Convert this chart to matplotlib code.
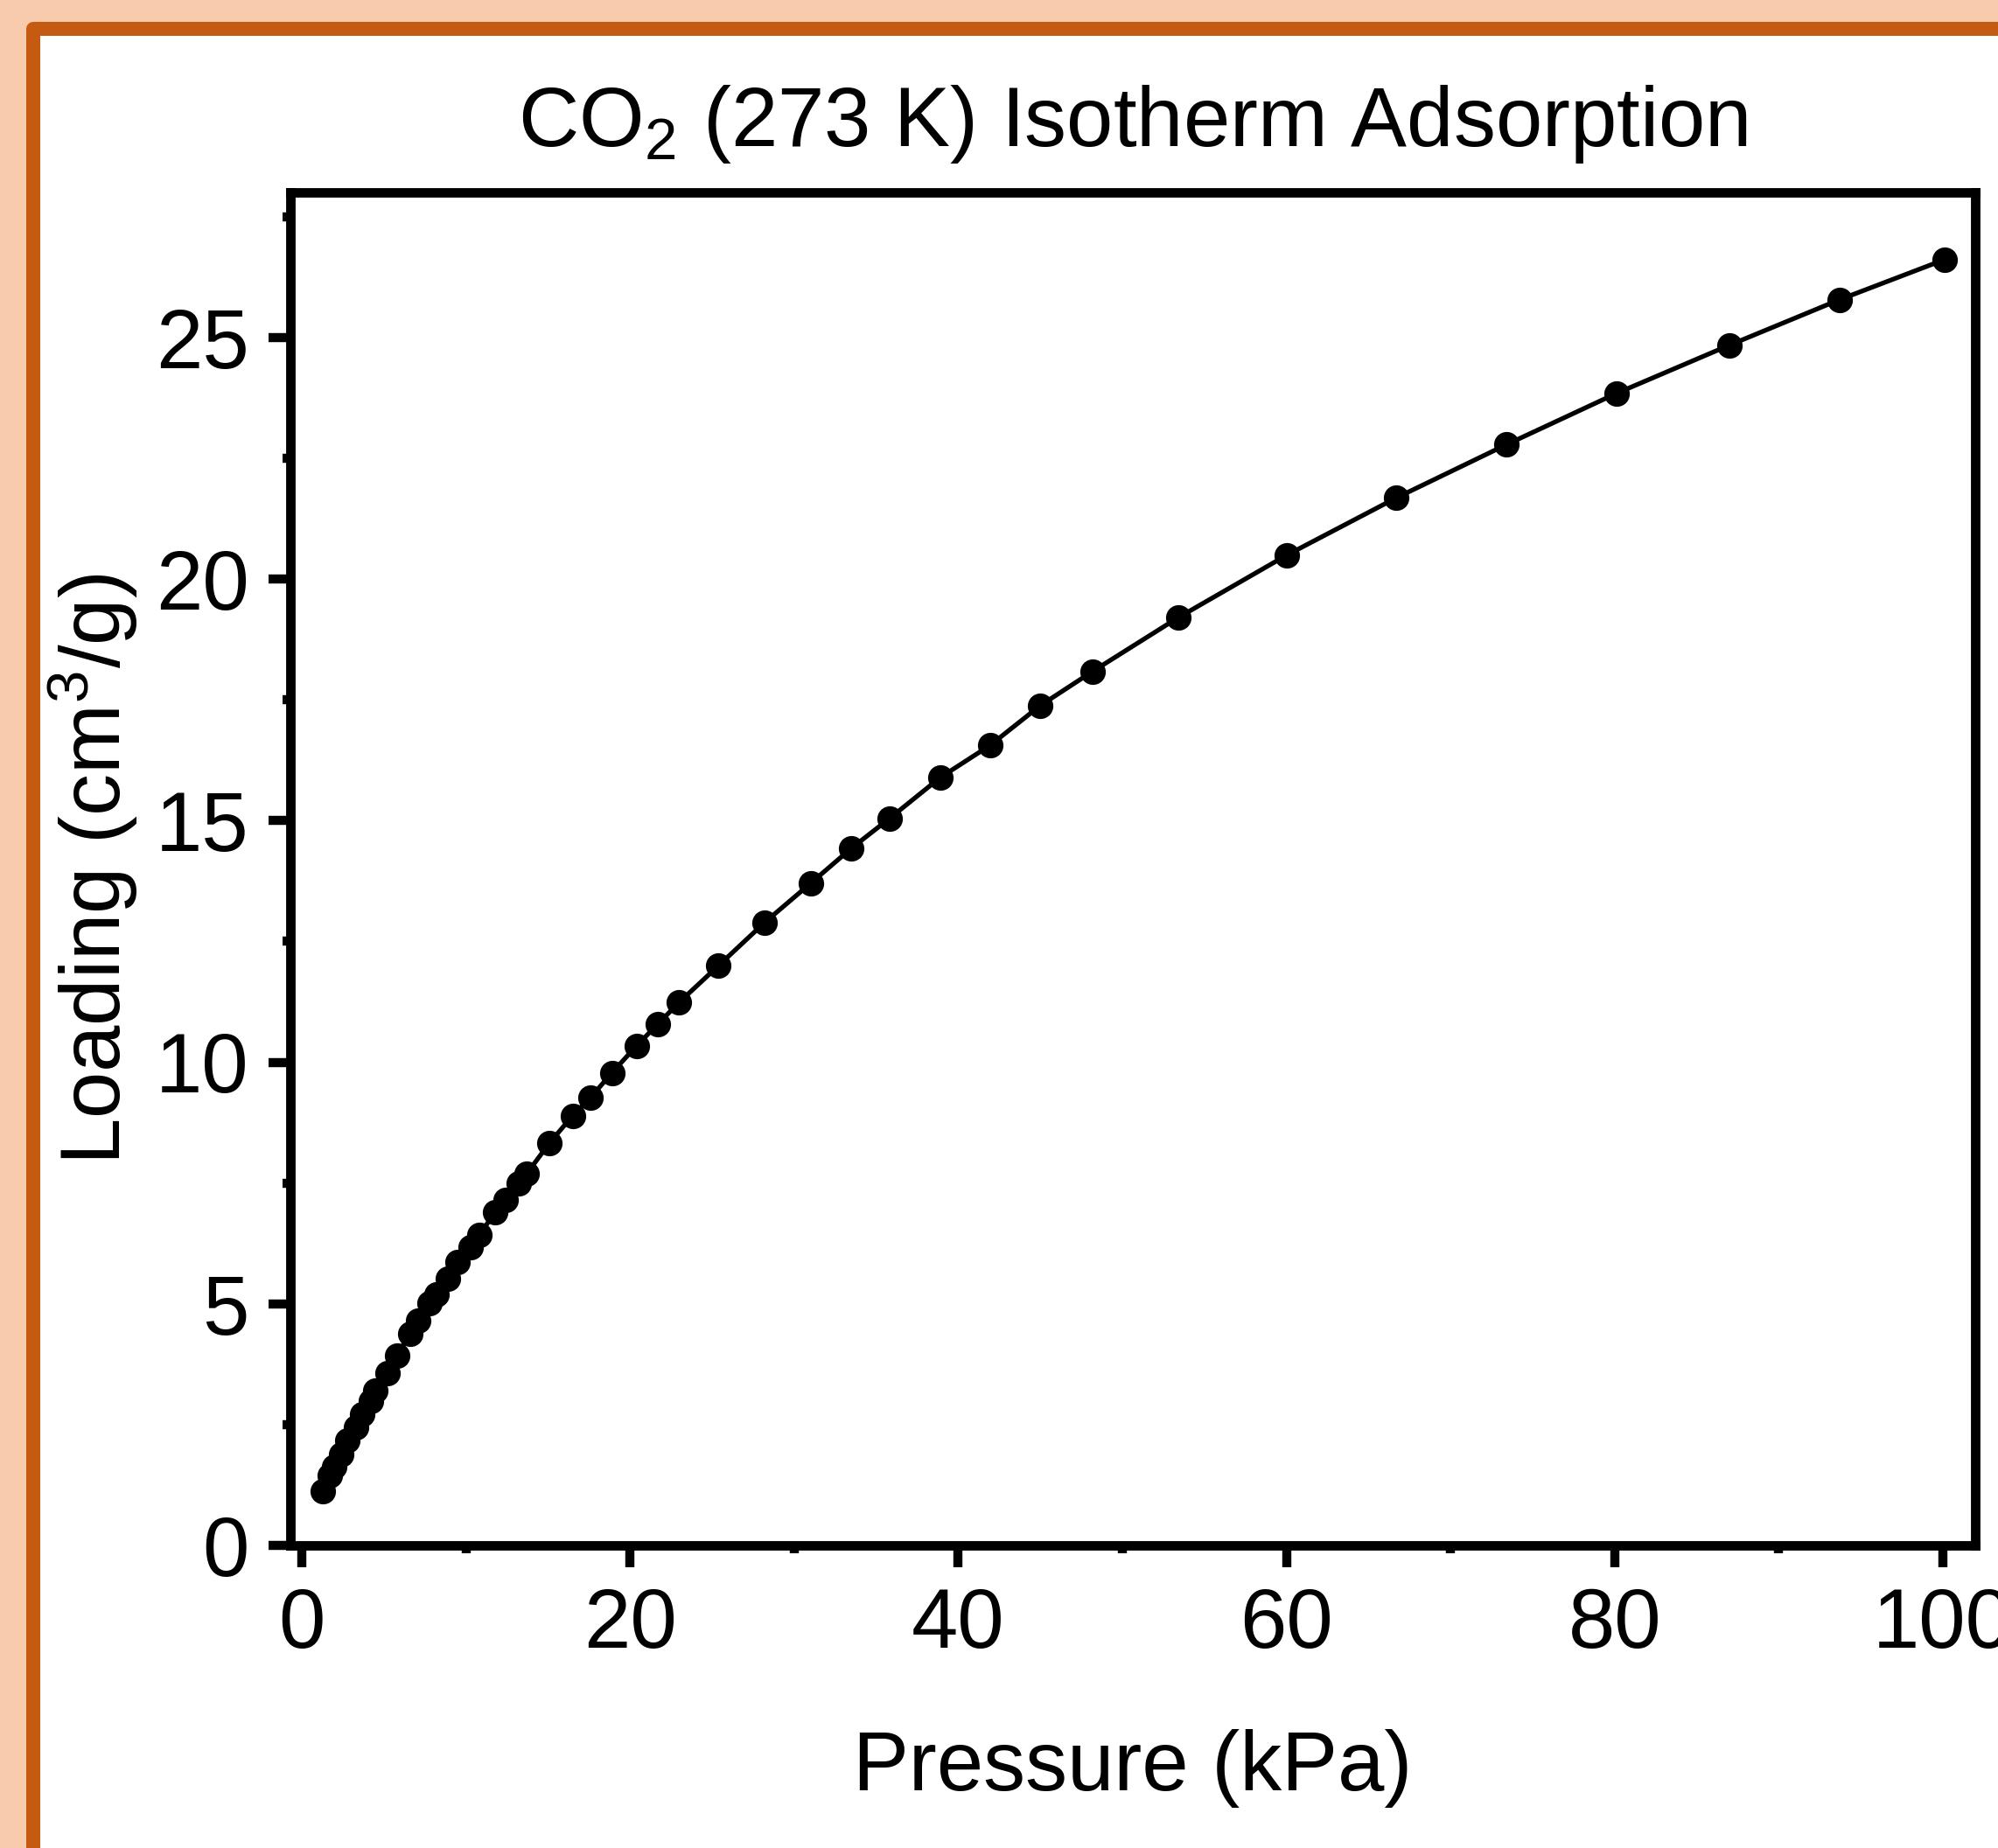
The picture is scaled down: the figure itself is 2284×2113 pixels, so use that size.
import matplotlib
matplotlib.use("Agg")
import matplotlib.pyplot as plt
from matplotlib.patches import Rectangle
from matplotlib.ticker import MultipleLocator

pressure = [1.3, 1.7, 2.0, 2.4, 2.8, 3.3, 3.7, 4.2, 4.5, 5.2, 5.8, 6.6, 7.1, 7.8,
            8.2, 8.9, 9.5, 10.3, 10.8, 11.8, 12.4, 13.2, 13.7, 15.1, 16.5, 17.6,
            18.9, 20.4, 21.7, 23.0, 25.4, 28.2, 31.0, 33.5, 35.8, 38.9, 41.95,
            45.0, 48.2, 53.4, 60.0, 66.7, 73.4, 80.1, 87.0, 93.7, 100.1]
loading = [1.12, 1.45, 1.63, 1.88, 2.17, 2.44, 2.72, 2.99, 3.20, 3.57, 3.93, 4.38,
           4.65, 5.01, 5.20, 5.52, 5.87, 6.17, 6.43, 6.89, 7.15, 7.49, 7.69, 8.33,
           8.89, 9.27, 9.78, 10.34, 10.79, 11.24, 12.0, 12.89, 13.70, 14.43, 15.04,
           15.89, 16.56, 17.38, 18.09, 19.2, 20.49, 21.68, 22.78, 23.84, 24.84,
           25.78, 26.61]

x_ticks = [0, 20, 40, 60, 80, 100]
y_ticks = [0, 5, 10, 15, 20, 25]

title = r"CO$_2$ (273 K) Isotherm Adsorption"
x_label = "Pressure (kPa)"
y_label = r"Loading (cm$^3$/g)"

FS = 69

plt.rcParams["font.family"] = ["Liberation Sans", "DejaVu Sans"]
plt.rcParams["mathtext.fontset"] = "custom"
plt.rcParams["mathtext.rm"] = "Liberation Sans"
plt.rcParams["mathtext.it"] = "Liberation Sans:italic"
plt.rcParams["mathtext.bf"] = "Liberation Sans:bold"

W, H, DPI = 2284, 2113, 100
fig = plt.figure(figsize=(W / DPI, H / DPI), dpi=DPI, facecolor="#F8CBAD")

# rounded orange frame with white card inside
frame = Rectangle((38 / W, -0.1), 1.2, 1 - 33 / H + 0.1, transform=fig.transFigure,
                  facecolor="white", edgecolor="#C55A11", linewidth=11.5,
                  joinstyle="round", zorder=0)
fig.add_artist(frame)

ax = fig.add_axes([332 / W, 346 / H, 1926 / W, 1547 / H])
ax.set_facecolor("white")

ax.plot(pressure, loading, color="black", linewidth=3.8, marker="o",
        markersize=20, markerfacecolor="black", markeredgecolor="black")

ax.set_xlim(-0.69, 101.97)
ax.set_ylim(0, 28)
ax.set_xticks(x_ticks)
ax.set_yticks(y_ticks)
ax.xaxis.set_minor_locator(MultipleLocator(10))
ax.yaxis.set_minor_locator(MultipleLocator(2.5))

for sp in ax.spines.values():
    sp.set_linewidth(7.8)
    sp.set_color("black")

ax.tick_params(which="major", direction="out", length=18, width=7.5,
               labelsize=FS, pad=16)
ax.tick_params(which="minor", direction="out", length=6.5, width=7.5)
ax.tick_params(top=False, right=False, which="both")

ax.set_title(title, fontsize=FS, y=1.0343, pad=0, va="baseline")
ax.set_xlabel(x_label, fontsize=FS)
ax.xaxis.label.set_va("baseline")
ax.xaxis.set_label_coords(0.5, -0.181)
ax.set_ylabel(y_label, fontsize=FS)
ax.yaxis.label.set_va("baseline")
ax.yaxis.set_label_coords(-0.1007, 0.5)

fig.savefig("out.png", dpi=DPI, facecolor=fig.get_facecolor())
